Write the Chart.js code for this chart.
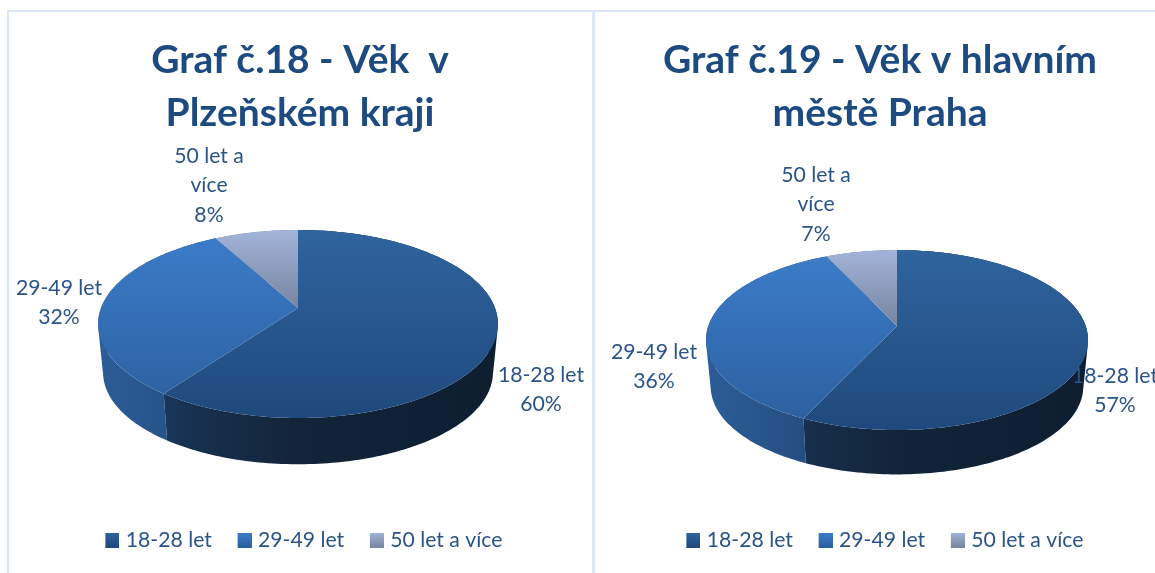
<!DOCTYPE html>
<html><head><meta charset="utf-8">
<style>
html,body{margin:0;padding:0;background:#fff;overflow:hidden;width:1155px;height:573px;position:relative}
canvas{position:absolute;top:0}
.b{position:absolute;background:#dbe6f6}
</style>
<script src="https://cdn.jsdelivr.net/npm/chart.js@4"></script>
</head><body>
<div class="b" style="left:7px;top:10px;width:2px;height:563px"></div>
<div class="b" style="left:592px;top:10px;width:3px;height:563px"></div>
<div class="b" style="left:7px;top:10px;width:1148px;height:2px"></div>
<canvas id="c1" width="588" height="573" style="left:6px"></canvas>
<canvas id="c2" width="566" height="573" style="left:597px"></canvas>
<script>
const categories = ['18-28 let', '29-49 let', '50 let a více'];
const valuesPlzen = [60, 32, 8];
const valuesPraha = [57, 36, 7];
const titlePlzen = ['Graf č.18 - Věk  v', 'Plzeňském kraji'];
const titlePraha = ['Graf č.19 - Věk v hlavním', 'městě Praha'];

const FONT = 'Lato, Carlito, sans-serif';
const TEXT = '#2a5488';
const faceCols = [['#2f649f','#1f497c'],['#3c7dc9','#2b5f9e'],['#a2b4da','#76849e']];

function swatch(cols){
  const c = document.createElement('canvas'); c.width = 18; c.height = 15;
  const x = c.getContext('2d'); const g = x.createLinearGradient(0,0,0,15);
  g.addColorStop(0,cols[0]); g.addColorStop(1,cols[1]);
  x.fillStyle = g; x.fillRect(4,0,14,15); return c;
}

function project(p, a, s, dy){
  const u = Math.cos(a), v = Math.sin(a), w = 1 - p.k*v;
  return [p.cx + s*p.A*u/w, p.cy + dy + s*p.B*v/w];
}
function rim(ctx, p, a0, a1){
  const n = Math.max(2, Math.ceil(Math.abs(a1-a0)/0.02));
  for(let i=0;i<=n;i++){
    const q = project(p, a0+(a1-a0)*i/n, 1, 0);
    ctx.lineTo(q[0],q[1]);
  }
}

const pie3d = {
  id:'pie3d',
  afterLayout(chart, args, opts){
    chart.legend.left += opts.legendShift;
    chart.legend.right += opts.legendShift;
  },
  beforeDatasetsDraw(chart, args, opts){
    const ctx = chart.ctx, p = opts.geom, arcs = chart.getDatasetMeta(0).data;
    const L = p.cx-p.A*1.02, R = p.cx+p.A*1.02;
    const walls = [
      [[0,'#1e4270'],[0.25,'#17304f'],[0.5,'#122439'],[1,'#0d1e31']],
      [[0,'#2c5d98'],[0.3,'#234c7d'],[1,'#1d3f69']],
      [[0,'#7f8da8'],[1,'#5f6b80']]
    ];
    [2,1,0].forEach(i=>{
      const el = arcs[i];
      const g = ctx.createLinearGradient(L,0,R,0);
      walls[i].forEach(st=>g.addColorStop(st[0],st[1]));
      ctx.fillStyle = g;
      const n = Math.ceil((el.endAngle-el.startAngle)/0.02);
      ctx.beginPath();
      for(let j=0;j<n;j++){
        const a0 = el.startAngle+(el.endAngle-el.startAngle)*j/n;
        const a1 = el.startAngle+(el.endAngle-el.startAngle)*(j+1)/n;
        let q = [project(p,a0,1,0),project(p,a1,1,0),project(p,a1,p.s,p.dy),project(p,a0,p.s,p.dy)];
        const area = (q[1][0]-q[0][0])*(q[2][1]-q[0][1])-(q[1][1]-q[0][1])*(q[2][0]-q[0][0]);
        if(area<0) q = q.reverse();
        ctx.moveTo(q[0][0],q[0][1]);
        for(let m=1;m<4;m++) ctx.lineTo(q[m][0],q[m][1]);
        ctx.closePath();
      }
      ctx.fill();
    });
    arcs.forEach((el,i)=>{
      el.draw = function(c){
        c.save();
        c.beginPath();
        c.moveTo(p.cx,p.cy);
        rim(c,p,this.startAngle,this.endAngle);
        c.closePath();
        const top = p.cy-p.B/(1+p.k), bot = p.cy+p.B/(1-p.k);
        const g = c.createLinearGradient(0,top,0,bot);
        if(i===2){ g.addColorStop(0,faceCols[2][0]); g.addColorStop(0.42,faceCols[2][1]); }
        else { g.addColorStop(0,faceCols[i][0]); g.addColorStop(1,faceCols[i][1]); }
        c.fillStyle = g; c.fill();
        c.restore();
      };
    });
  },
  afterDatasetsDraw(chart, args, opts){
    const ctx = chart.ctx, vals = chart.data.datasets[0].data;
    const total = vals.reduce((a,b)=>a+b,0);
    ctx.save();
    ctx.font = '21.2px '+FONT; ctx.fillStyle = TEXT;
    ctx.textAlign = 'center'; ctx.textBaseline = 'middle';
    opts.labels.forEach((lb,i)=>{
      const pct = Math.round(vals[i]/total*100)+'%';
      const lines = i===2 ? ['50 let a','více',pct] : [chart.data.labels[i],pct];
      lines.forEach((t,j)=>ctx.fillText(t,lb.x,lb.y+j*29.5));
    });
    ctx.restore();
  }
};

function make(id, values, title, geom, labels, legendShift){
  return new Chart(document.getElementById(id),{
    type:'pie',
    data:{labels:categories,datasets:[{data:values,backgroundColor:faceCols.map(c=>c[0]),borderWidth:0}]},
    plugins:[pie3d],
    options:{
      responsive:false,animation:false,devicePixelRatio:1,
      layout:{padding:{bottom:12}},
      plugins:{
        pie3d:{geom,labels,legendShift},
        tooltip:{enabled:false},
        title:{display:true,text:title,color:'#1d4a80',
          font:{family:FONT,size:39,weight:'bold',lineHeight:1.36},padding:{top:34,bottom:10}},
        legend:{position:'bottom',
          labels:{usePointStyle:true,pointStyleWidth:9.5,color:TEXT,padding:26,
            font:{family:FONT,size:21.2},
            generateLabels(chart){
              return chart.data.labels.map((t,i)=>({text:t,fontColor:TEXT,pointStyle:swatch(faceCols[i]),
                fillStyle:faceCols[i][0],lineWidth:0,hidden:false,index:i}));
            }}}
      }
    }
  });
}

make('c1',valuesPlzen,titlePlzen,
  {cx:292,cy:308,A:197,B:91.3,k:0.17,s:0.975,dy:49},
  [{x:535,y:375},{x:53,y:288},{x:203,y:156}], 4);
make('c2',valuesPraha,titlePraha,
  {cx:300,cy:326,A:188.7,B:87.8,k:0.156,s:0.975,dy:47},
  [{x:518,y:376},{x:57,y:352},{x:219,y:175}], 5);
</script>
</body></html>
